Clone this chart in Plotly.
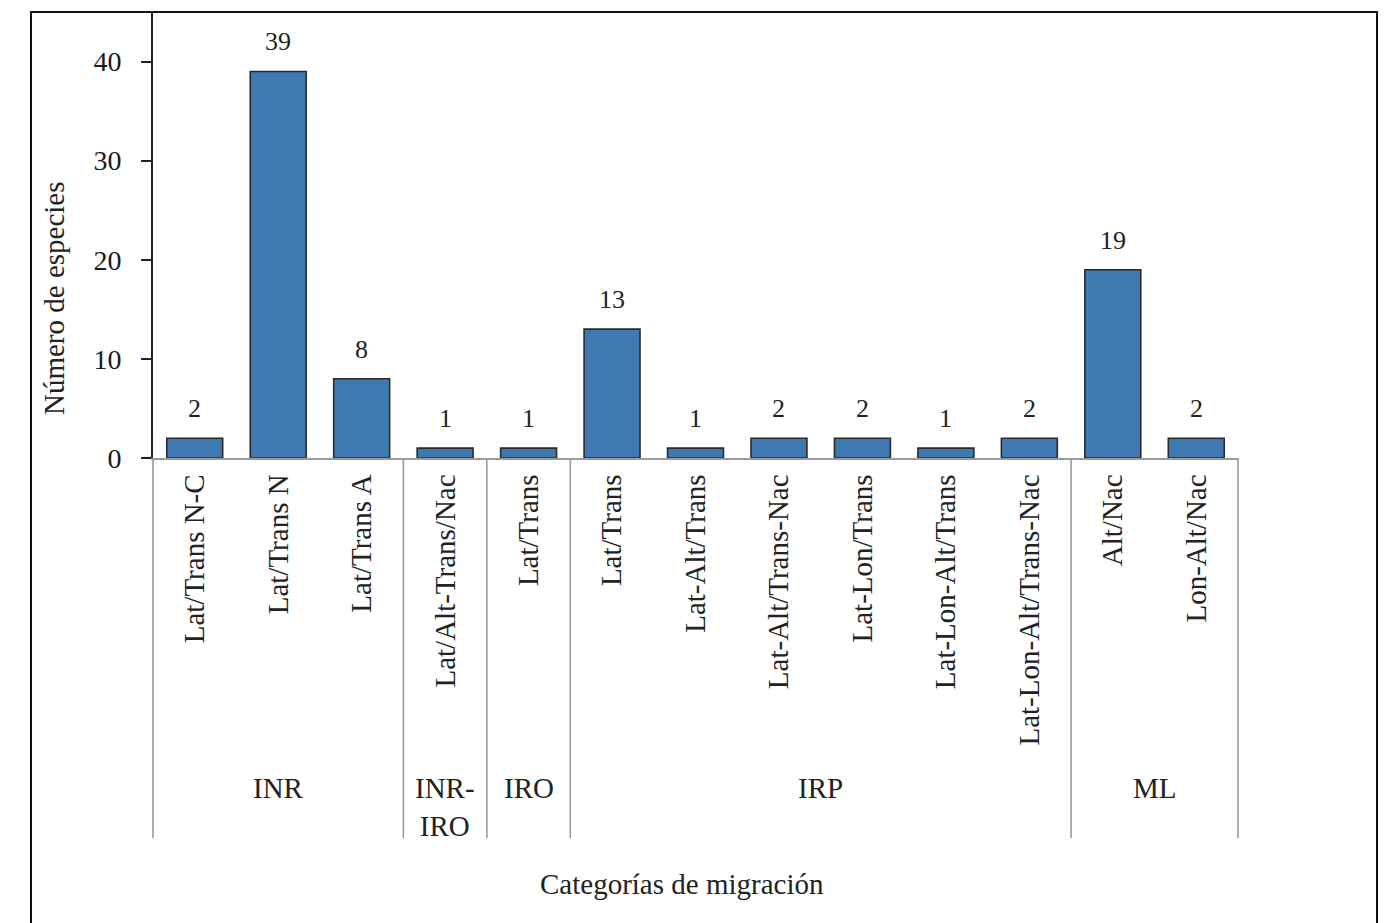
import plotly.graph_objects as go

# ---- data ----
categories = ["Lat/Trans N-C", "Lat/Trans N", "Lat/Trans A", "Lat/Alt-Trans/Nac",
              "Lat/Trans", "Lat/Trans", "Lat-Alt/Trans", "Lat-Alt/Trans-Nac",
              "Lat-Lon/Trans", "Lat-Lon-Alt/Trans", "Lat-Lon-Alt/Trans-Nac",
              "Alt/Nac", "Lon-Alt/Nac"]
species = [2, 39, 8, 1, 1, 13, 1, 2, 2, 1, 2, 19, 2]
group_names = ["INR", "INR-<br>IRO", "IRO", "IRP", "ML"]
group_sizes = [3, 1, 1, 6, 2]
y_ticks = [0, 10, 20, 30, 40]

# ---- layout constants (targets in screen pixels; page body adds an 8px offset) ----
OFF = 8
W, H = 1396, 923
PLOT_L, PLOT_R, PLOT_T, PLOT_B = 153, 1238, 12, 458
L = PLOT_L - OFF
T = PLOT_T - OFF
R = W - (PLOT_R - OFF)
B = H - (PLOT_B - OFF)
PW, PH = PLOT_R - PLOT_L, PLOT_B - PLOT_T
SERIF = "Liberation Serif"
TXT = "#222222"
BAR = "#3E7AB1"

def py(px):  # screen pixel y -> paper y
    return (PLOT_B - px) / PH

def pxx(px):  # screen pixel x -> paper x
    return (px - PLOT_L) / PW

x = list(range(len(categories)))

fig = go.Figure()
fig.add_trace(go.Bar(
    x=x, y=species,
    marker=dict(color=BAR, line=dict(color="#2a2a2a", width=1.6)),
    showlegend=False, hoverinfo="x+y",
))

annotations = []
# value labels
for xi, v in zip(x, species):
    annotations.append(dict(x=xi, y=v, xref="x", yref="y", text=str(v),
                            showarrow=False, yanchor="bottom", yshift=13,
                            font=dict(family=SERIF, size=26, color=TXT)))

# group separators and labels
shapes = []
total = sum(group_sizes)
start = 0
shapes.append(dict(type="line", xref="x domain", yref="paper", x0=0, x1=0,
                   y0=0, y1=py(838), line=dict(color="#9a9a9a", width=1.6)))
for name, size in zip(group_names, group_sizes):
    end = start + size
    shapes.append(dict(type="line", xref="x domain", yref="paper",
                       x0=end / total, x1=end / total, y0=0, y1=py(838),
                       line=dict(color="#9a9a9a", width=1.6)))
    annotations.append(dict(x=start + (size - 1) / 2, y=py(770), xref="x", yref="paper",
                            text=name, showarrow=False, yanchor="top",
                            font=dict(family=SERIF, size=29, color=TXT)))
    start = end

# outer frame
shapes.append(dict(type="rect", xref="paper", yref="paper",
                   x0=pxx(31), x1=pxx(1377), y0=py(960), y1=1.0,
                   line=dict(color="#111111", width=2), layer="below"))

# axis titles
annotations.append(dict(x=pxx(682), y=py(884), xref="paper", yref="paper",
                        text="Categorías de migración", showarrow=False,
                        xanchor="center", yanchor="middle",
                        font=dict(family=SERIF, size=29, color=TXT)))
annotations.append(dict(x=pxx(54), y=py(298), xref="paper", yref="paper",
                        text="Número de especies", showarrow=False, textangle=-90,
                        xanchor="center", yanchor="middle",
                        font=dict(family=SERIF, size=29, color=TXT)))

fig.update_layout(
    width=W, height=H,
    margin=dict(l=L, r=R, t=T, b=B, pad=0),
    paper_bgcolor="white", plot_bgcolor="white",
    bargap=0.33,
    shapes=shapes, annotations=annotations,
    xaxis=dict(range=[-0.5, len(categories) - 0.5], tickvals=x, ticktext=categories,
               tickangle=-90, showline=True, linecolor="#9a9a9a", linewidth=1.6,
               ticks="", showgrid=False, zeroline=False, ticklabelstandoff=3,
               tickfont=dict(family=SERIF, size=29, color=TXT)),
    yaxis=dict(range=[0, 45], tickvals=y_ticks, ticks="outside", ticklen=10,
               tickwidth=1.6, tickcolor="#222222", showline=True, linecolor="#222222",
               linewidth=2, showgrid=False, zeroline=False, ticklabelstandoff=14,
               tickfont=dict(family=SERIF, size=28, color="#1a1a1a")),
)

fig.write_html("out.html")
